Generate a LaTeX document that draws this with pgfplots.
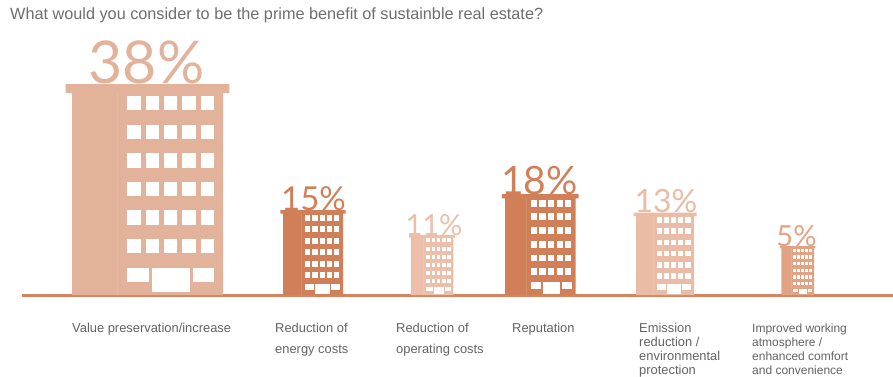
\documentclass[border=0pt]{standalone}
\usepackage{pgfplots}
\pgfplotsset{compat=1.18}
\usepackage{fontspec}
\setmainfont{Liberation Sans}
\newfontfamily\bignum{Lato}
\definecolor{buildA}{HTML}{E3B29A}
\definecolor{buildB}{HTML}{D17F59}
\definecolor{buildC}{HTML}{EBBFAA}
\definecolor{buildD}{HTML}{D17F59}
\definecolor{buildE}{HTML}{EABBA5}
\definecolor{buildF}{HTML}{E2A384}
\definecolor{groundline}{HTML}{D8835F}
\definecolor{titlegrey}{HTML}{6E6E6E}
\definecolor{labelgrey}{HTML}{636363}

\newcommand{\baseY}{81}
% white opening of a facade, given in fractions of the building's width and height
\newcommand{\opening}[6]{%
  \pgfmathsetmacro{\xa}{#1+#3*#5}\pgfmathsetmacro{\xb}{#1+#3*(#5+#6)}%
  \edef\plotit{\noexpand\addplot[fill=white,draw=none,forget plot] coordinates {(\xa,\ya)(\xb,\ya)(\xb,\yb)(\xa,\yb)} --cycle;}\plotit}
% building: left edge, width, height, colour
\newcommand{\building}[4]{%
  \pgfmathsetmacro{\top}{\baseY+#3}\pgfmathsetmacro{\eave}{\baseY+0.957*#3}%
  \pgfmathsetmacro{\ro}{#1-0.043*#2}\pgfmathsetmacro{\rr}{#1+1.043*#2}\pgfmathsetmacro{\br}{#1+#2}%
  \pgfmathsetmacro{\seam}{#1+0.298*#2}%
  \edef\plotit{\noexpand\addplot[fill=#4,draw=none,forget plot] coordinates {(#1,\baseY)(\br,\baseY)(\br,\eave)(\rr,\eave)(\rr,\top)(\ro,\top)(\ro,\eave)(#1,\eave)} --cycle;
    \noexpand\addplot[draw=white,draw opacity=0.1,line width=0.5pt,forget plot] coordinates {(\seam,\baseY)(\seam,\eave)};}\plotit
  \pgfplotsforeachungrouped \r in {0,1,2,3,4,5}{%
    \pgfmathsetmacro{\ya}{\baseY+(0.943-\r*0.1355)*#3}\pgfmathsetmacro{\yb}{\ya-0.0678*#3}%
    \opening{#1}{#3}{#2}{}{0.366}{0.0883}\opening{#1}{#3}{#2}{}{0.4874}{0.0883}\opening{#1}{#3}{#2}{}{0.6088}{0.0883}\opening{#1}{#3}{#2}{}{0.7302}{0.0883}\opening{#1}{#3}{#2}{}{0.8516}{0.0883}%
  }%
  \pgfmathsetmacro{\ya}{\baseY+0.128*#3}\pgfmathsetmacro{\yb}{\baseY+0.0616*#3}%
  \opening{#1}{#3}{#2}{}{0.366}{0.146}\opening{#1}{#3}{#2}{}{0.801}{0.142}%
  \pgfmathsetmacro{\yb}{\baseY+0.014*#3}%
  \opening{#1}{#3}{#2}{}{0.533}{0.249}%
}
\newcommand{\lbl}[4][12.9]{\node[anchor=base west,inner sep=0pt,text=labelgrey,font=\fontsize{#1}{14}\selectfont] at (axis cs:#2,376-#3) {#4};}
% percentage sitting on a roof: centre x, baseline height above the image bottom, size, colour, text
\newcommand{\pct}[5]{\node[anchor=base,inner sep=0pt,text=#4,font=\fontsize{#3}{#3}\bignum] at (axis cs:#1,#2) {#5};}

\begin{document}
\begin{tikzpicture}
\path[use as bounding box] (0,0) rectangle (893pt,376pt);
\begin{axis}[
  at={(0,0)}, anchor=south west,
  scale only axis, width=893pt, height=376pt,
  xmin=0, xmax=893, ymin=0, ymax=376,
  hide axis, clip=false,
]
\addplot[draw=groundline,line width=2.2pt,forget plot] coordinates {(22,80.5)(893,80.5)};
\building{72}{151}{211}{buildA}
\building{283}{60}{85}{buildB}
\building{411}{42.3}{60}{buildC}
\building{505}{70.7}{101}{buildD}
\building{636}{58}{82.5}{buildE}
\building{781.3}{32.7}{49}{buildF}
\pct{146.5}{293}{59}{buildA}{38\%}
\pct{313.5}{166}{33}{buildB}{15\%}
\pct{434}{141}{29}{buildC}{11\%}
\pct{539.5}{182}{39}{buildD}{18\%}
\pct{666}{163.5}{32}{buildE}{13\%}
\pct{796.5}{130}{29}{buildF}{5\%}
\node[anchor=base west,inner sep=0pt,text=titlegrey,font=\fontsize{16.25}{18}\selectfont] at (axis cs:10,356) {What would you consider to be the prime benefit of sustainble real estate?};
\lbl{72}{332}{Value preservation/increase}
\lbl{275}{332}{Reduction of}
\lbl{275}{353}{energy costs}
\lbl{396}{332}{Reduction of}
\lbl{396}{353}{operating costs}
\lbl{512}{332}{Reputation}
\lbl{639}{332}{Emission}
\lbl{639}{346}{reduction /}
\lbl{639}{360}{environmental}
\lbl{639}{374}{protection}
\lbl[12]{752}{332}{Improved working}
\lbl[12]{752}{346}{atmosphere /}
\lbl[12]{752}{360}{enhanced comfort}
\lbl[12]{752}{374}{and convenience}
\end{axis}
\end{tikzpicture}
\end{document}
